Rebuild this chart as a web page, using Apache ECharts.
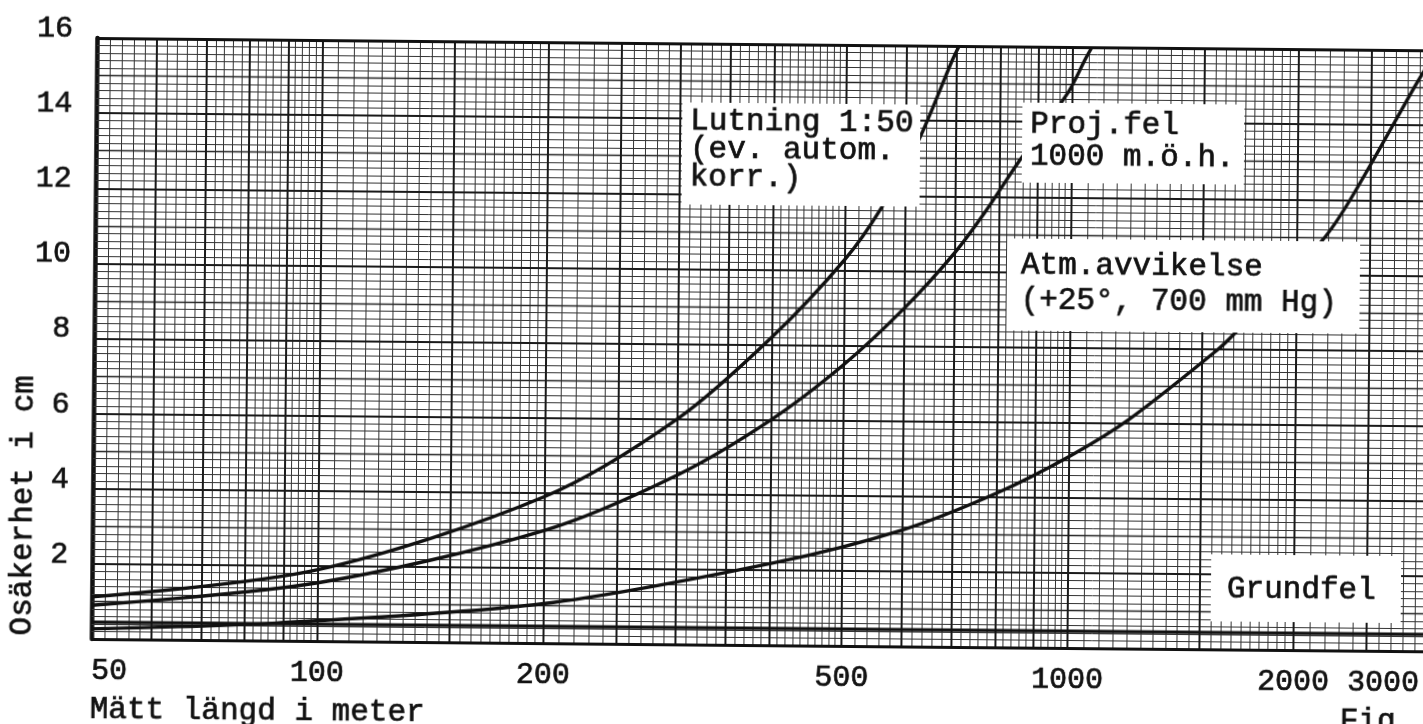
<!DOCTYPE html>
<html>
<head>
<meta charset="utf-8">
<script src="https://cdn.jsdelivr.net/npm/echarts@6/dist/echarts.min.js"></script>
<style>
html,body{margin:0;padding:0;background:#fff;overflow:hidden;width:1423px;height:724px;}
#c{position:absolute;left:0;top:0;width:1440px;height:745px;transform:rotate(0.53deg);transform-origin:97px 38px;background:#fff;}
</style>
</head>
<body>
<div id="c"></div>
<script>
// ---- values ----
const xTickLabels = [50, 100, 200, 500, 1000, 2000, 3000];
const yTickLabels = [2, 4, 6, 8, 10, 12, 14, 16];

const lutningD  = [50, 100, 200, 300, 400, 500, 559, 625, 690, 705];
const lutningCm = [1.12, 1.9, 3.9, 6.0, 8.2, 10.3, 11.7, 13.5, 15.6, 16.0];

const projD  = [50, 100, 200, 300, 400, 500, 600, 700, 768, 847, 987, 1040, 1060];
const projCm = [0.9, 1.55, 3.0, 4.5, 6.0, 7.5, 9.0, 10.5, 11.6, 12.9, 14.8, 15.7, 16.0];

const atmD  = [50, 88, 200, 406, 600, 800, 1000, 1200, 1564, 1653, 2158, 2351, 2870, 2950];
const atmCm = [0.27, 0.47, 1.05, 2.2, 3.1, 4.1, 5.1, 6.1, 7.94, 8.4, 10.9, 12.0, 15.1, 15.5];

const grundD  = [50, 3000];
const grundCm = [0.45, 0.45];

// graph paper pattern (semi-log paper)
const paperDecades = [10, 100, 1000];
const paperMinorSteps = [[1, 2, 0.05], [2, 5, 0.1], [5, 10, 0.2]];
const paperHeavyMultipliers = [1, 1.5, 2, 2.5, 3, 3.5, 4, 5, 6, 7, 8, 9];

const X_MIN = 50, X_MAX = 3000, Y_MIN = 0, Y_MAX = 16;
const FONT = '"Liberation Mono", "DejaVu Sans Mono", monospace';
const INK = '#111111';

// ---- build paper lines ----
const rnd = v => Math.round(v * 1e6) / 1e6;
const heavyV = [];
paperDecades.forEach(d => paperHeavyMultipliers.forEach(m => {
  const v = rnd(m * d);
  if (v > X_MIN && v < X_MAX) heavyV.push(v);
}));
const minorV = [];
paperDecades.forEach(d => paperMinorSteps.forEach(([a, b, s]) => {
  const n = Math.round((b - a) / s);
  for (let i = 0; i < n; i++) {
    const v = rnd((a + i * s) * d);
    if (v > X_MIN && v < X_MAX && heavyV.indexOf(v) < 0 && minorV.indexOf(v) < 0) minorV.push(v);
  }
}));
const minorH = [], midH = [], heavyH = [];
for (let i = 1; i < 80; i++) {
  const v = rnd(i * 0.2);
  if (i % 10 === 0) heavyH.push(v); else if (i % 5 === 0) midH.push(v); else minorH.push(v);
}

function paperSeries(name, data, color, width, z) {
  return {
    name, type: 'line', data: [], silent: true, z,
    markLine: {
      silent: true, animation: false, symbol: ['none', 'none'],
      label: { show: false }, emphasis: { disabled: true },
      lineStyle: { color, width, type: 'solid' },
      data
    }
  };
}
const pairs = (xs, ys) => xs.map((x, i) => [x, ys[i]]);
function curve(name, xs, ys) {
  return {
    name, type: 'line', data: pairs(xs, ys), z: 6,
    smooth: 0.3, showSymbol: false, symbol: 'none',
    lineStyle: { color: INK, width: 3.4 }, silent: true, animation: false
  };
}
const txt = (text, extra) => Object.assign({ text, font: '31px ' + FONT, fill: INK, stroke: INK, lineWidth: 0.7 }, extra);

const chart = echarts.init(document.getElementById('c'), null, { renderer: 'canvas' });
const option = {
  backgroundColor: '#ffffff',
  animation: false,
  grid: { left: 97, top: 38, width: 1334, height: 601 },
  xAxis: {
    type: 'log', logBase: 10, min: X_MIN, max: X_MAX,
    axisLine: { show: false }, axisTick: { show: false }, splitLine: { show: false },
    axisLabel: {
      customValues: xTickLabels,
      fontFamily: FONT, fontSize: 30, color: INK, margin: 17,
      textBorderColor: INK, textBorderWidth: 0.7,
      alignMinLabel: 'left', alignMaxLabel: 'right',
      formatter: v => (Math.round(v) === 3000 ? '{e|3000}' : String(Math.round(v))),
      rich: { e: { fontFamily: FONT, fontSize: 30, color: INK, textBorderColor: INK, textBorderWidth: 0.7, padding: [0, 6, 0, 0] } }
    }
  },
  yAxis: {
    type: 'value', min: Y_MIN, max: Y_MAX, interval: 2,
    axisLine: { show: true, lineStyle: { color: INK, width: 4.5 } },
    axisTick: { show: false }, splitLine: { show: false },
    axisLabel: {
      fontFamily: FONT, fontSize: 30, color: INK, margin: 24,
      textBorderColor: INK, textBorderWidth: 0.7,
      verticalAlign: 'bottom', lineHeight: 18,
      formatter: v => (yTickLabels.indexOf(v) >= 0 ? String(v) : '')
    }
  },
  series: [
    paperSeries('minorV', minorV.map(v => ({ xAxis: v })), '#333333', 1, 1),
    paperSeries('minorH', minorH.map(v => ({ yAxis: v })), '#333333', 1, 1),
    paperSeries('midH', midH.map(v => ({ yAxis: v })), '#252525', 1.4, 2),
    paperSeries('heavyV', heavyV.map(v => ({ xAxis: v })), '#1a1a1a', 2, 3),
    paperSeries('heavyH', heavyH.map(v => ({ yAxis: v })), '#1a1a1a', 2, 3),
    paperSeries('border', [{ yAxis: Y_MAX }, { yAxis: Y_MIN }], INK, 3, 4),
    curve('Grundfel', grundD, grundCm),
    curve('Atm.avvikelse', atmD, atmCm),
    curve('Proj.fel', projD, projCm),
    curve('Lutning 1:50', lutningD, lutningCm)
  ],
  graphic: [
    { type: 'rect', z: 100, shape: { x: 683, y: 97, width: 238, height: 102 }, style: { fill: '#fff' } },
    { type: 'text', z: 101, x: 691, y: 102, style: txt('Lutning 1:50\n(ev. autom.\nkorr.)', { lineHeight: 28, verticalAlign: 'top' }) },
    { type: 'rect', z: 100, shape: { x: 1023, y: 94, width: 222, height: 80 }, style: { fill: '#fff' } },
    { type: 'text', z: 101, x: 1031, y: 100, style: txt('Proj.fel\n1000 m.ö.h.', { lineHeight: 32, verticalAlign: 'top' }) },
    { type: 'rect', z: 100, shape: { x: 1009, y: 230, width: 353, height: 92 }, style: { fill: '#fff' } },
    { type: 'text', z: 101, x: 1023, y: 239, style: txt('Atm.avvikelse\n(+25°, 700 mm Hg)', { lineHeight: 35, verticalAlign: 'top' }) },
    { type: 'rect', z: 100, shape: { x: 1216, y: 544, width: 190, height: 67 }, style: { fill: '#fff' } },
    { type: 'text', z: 101, x: 1232, y: 579, style: txt('Grundfel', { verticalAlign: 'middle' }) },
    { type: 'text', z: 101, x: 96, y: 710, style: txt('Mätt längd i meter', { verticalAlign: 'middle' }) },
    { type: 'text', z: 101, x: 28, y: 506, rotation: Math.PI / 2, style: txt('Osäkerhet i cm', { align: 'center', verticalAlign: 'middle' }) },
    { type: 'text', z: 101, x: 1346, y: 694, style: txt('Fig. 2', { verticalAlign: 'top' }) }
  ]
};
chart.setOption(option);
</script>
</body>
</html>
